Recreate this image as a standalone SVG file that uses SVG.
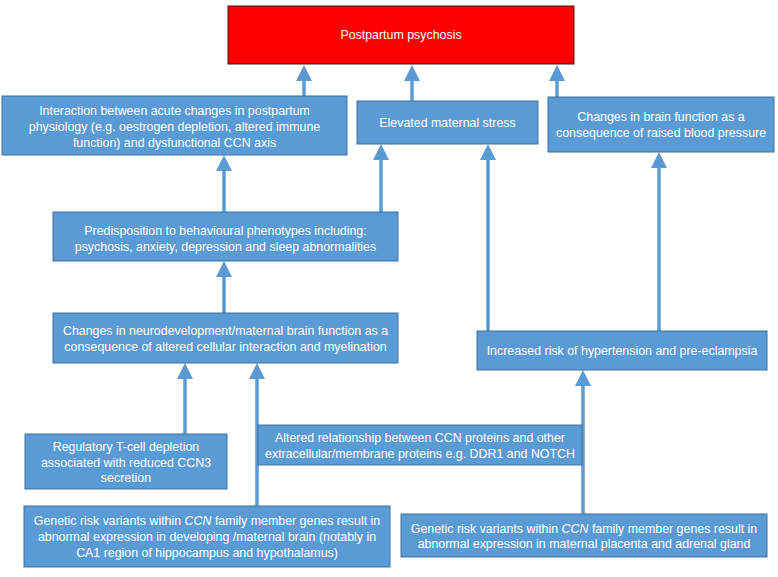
<svg xmlns="http://www.w3.org/2000/svg" width="778" height="577" viewBox="0 0 778 577">
<style>
.box{fill:#5B9BD5;stroke:#41719C;stroke-width:1}
.red{fill:#FF0000;stroke:#3a1a1a;stroke-width:1}
.t{font-family:"Liberation Sans",Arial,sans-serif;font-size:12.4px;fill:#ffffff;text-anchor:middle}
.c{stroke:#5B9BD5;stroke-width:3.5;fill:none;marker-end:url(#ah)}
</style>
<defs>
<marker id="ah" viewBox="0 0 16 16" refX="0" refY="8" markerWidth="16" markerHeight="16" markerUnits="userSpaceOnUse" orient="auto">
<path d="M0,0 L16,8 L0,16 z" fill="#5B9BD5"/>
</marker>
</defs>
<rect width="778" height="577" fill="#ffffff"/>
<g id="connectors">
<path class="c" d="M304,96 V81"/>
<path class="c" d="M412,101 V81"/>
<path class="c" d="M557,97 V81"/>
<path class="c" d="M224,212 V171"/>
<path class="c" d="M381,212 V160"/>
<path class="c" d="M488,331 V160"/>
<path class="c" d="M659,331 V168"/>
<path class="c" d="M224,313 V277"/>
<path class="c" d="M185,434 V379"/>
<path class="c" d="M257,506 V379"/>
<path class="c" d="M583,514 V386"/>
</g>
<g id="n-psychosis">
<rect class="red" x="228" y="6" width="346" height="58"/>
<text class="t" x="401" y="39">Postpartum  psychosis</text>
</g>
<g id="n-interaction">
<rect class="box" x="2" y="96" width="345" height="59"/>
<text class="t" x="174.5" y="115">Interaction  between acute changes in postpartum</text>
<text class="t" x="174.5" y="131">physiology (e.g. oestrogen depletion, altered immune</text>
<text class="t" x="174.5" y="147">function)  and dysfunctional CCN axis</text>
</g>
<g id="n-stress">
<rect class="box" x="357" y="101" width="181" height="43"/>
<text class="t" x="447.5" y="127">Elevated maternal stress</text>
</g>
<g id="n-brainbp">
<rect class="box" x="548" y="97" width="226" height="55"/>
<text class="t" x="661" y="121">Changes in brain function  as a</text>
<text class="t" x="661" y="137">consequence of raised blood  pressure</text>
</g>
<g id="n-predisposition">
<rect class="box" x="53" y="212" width="345" height="49"/>
<text class="t" x="225.5" y="235">Predisposition to behavioural phenotypes including:</text>
<text class="t" x="225.5" y="251">psychosis, anxiety, depression and sleep abnormalities</text>
</g>
<g id="n-neurodev">
<rect class="box" x="53" y="313" width="345" height="50"/>
<text class="t" x="225.5" y="335">Changes in neurodevelopment/maternal  brain function as a</text>
<text class="t" x="225.5" y="351">consequence of altered cellular interaction and myelination</text>
</g>
<g id="n-hypertension">
<rect class="box" x="477" y="331" width="290" height="39"/>
<text class="t" x="622" y="355">Increased risk of hypertension  and pre-eclampsia</text>
</g>
<g id="n-tcell">
<rect class="box" x="25" y="434" width="202" height="55"/>
<text class="t" x="126" y="451">Regulatory T-cell depletion</text>
<text class="t" x="126" y="467">associated with reduced CCN3</text>
<text class="t" x="126" y="482">secretion</text>
</g>
<g id="n-altered">
<rect class="box" x="258" y="425" width="324" height="40"/>
<text class="t" x="420" y="442">Altered relationship between CCN proteins and other</text>
<text class="t" x="420" y="458">extracellular/membrane  proteins e.g. DDR1 and NOTCH</text>
</g>
<g id="n-genetic-brain">
<rect class="box" x="24" y="506" width="366" height="61"/>
<text class="t" x="207" y="525">Genetic risk variants within <tspan font-style="italic">CCN</tspan> family member  genes result in</text>
<text class="t" x="207" y="541">abnormal  expression in developing /maternal brain (notably in</text>
<text class="t" x="207" y="557">CA1 region of hippocampus  and hypothalamus)</text>
</g>
<g id="n-genetic-placenta">
<rect class="box" x="401" y="514" width="366" height="43"/>
<text class="t" x="584" y="533">Genetic risk variants within <tspan font-style="italic">CCN</tspan> family member  genes result in</text>
<text class="t" x="584" y="548">abnormal  expression in maternal placenta and adrenal gland</text>
</g>
</svg>
